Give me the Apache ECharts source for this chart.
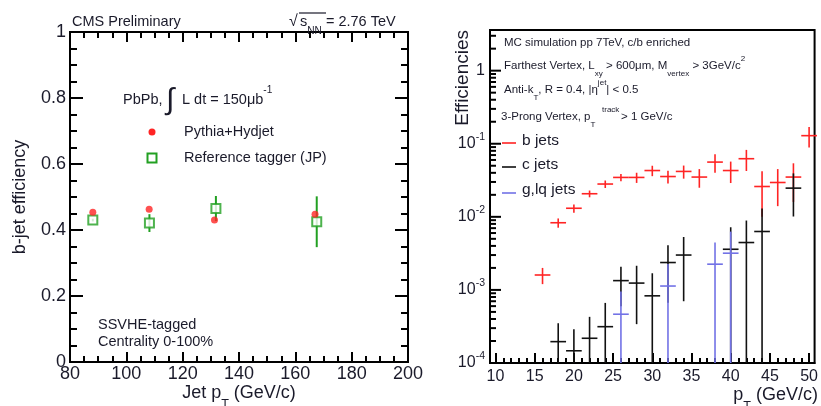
<!DOCTYPE html>
<html><head><meta charset="utf-8">
<script src="https://cdn.jsdelivr.net/npm/echarts@6/dist/echarts.min.js"></script>
<style>html,body{margin:0;padding:0;background:#fff}#c{width:821px;height:406px}</style>
</head><body><div id="c"></div>
<script>
// ---------- Left panel data (b-jet efficiency vs jet pT) ----------
const pythiaPt  = [88.1, 108.1, 131.3, 167.0];
const pythiaEff = [0.454, 0.463, 0.430, 0.448];
const jpPt  = [88.1, 108.2, 131.8, 167.6];
const jpEff = [0.430, 0.421, 0.465, 0.425];
const jpErr = [0.004, 0.027, 0.038, 0.077];
const leftXTicks = [80, 100, 120, 140, 160, 180, 200];
const leftYTicks = [0, 0.2, 0.4, 0.6, 0.8, 1];

// ---------- Right panel data (efficiencies vs pT, log scale) ----------
const binHalfWidth = 1; // histogram bins of width 2 GeV/c
const bPt  = [16, 18, 20, 22, 24, 26, 28, 30, 32, 34, 36, 38, 40, 42, 44, 46, 48, 50];
const bEff = [1.6e-3, 8.3e-3, 1.31e-2, 2.07e-2, 2.81e-2, 3.46e-2, 3.46e-2, 4.3e-2, 3.56e-2, 4.18e-2, 3.5e-2, 5.61e-2, 4.3e-2, 6.24e-2, 2.6e-2, 2.95e-2, 3.5e-2, 0.129];
const bErr = [0.4e-3, 1.2e-3, 1.7e-3, 2.2e-3, 3.3e-3, 4.0e-3, 5.5e-3, 7.0e-3, 7.0e-3, 8.5e-3, 1.0e-2, 1.6e-2, 1.4e-2, 2.0e-2, 1.6e-2, 1.55e-2, 1.9e-2, 0.04];
const cPt  = [18, 20, 22, 24, 26, 28, 30, 32, 34, 40, 42, 44, 48];
const cEff = [1.96e-4, 1.47e-4, 2.18e-4, 3.14e-4, 1.34e-3, 1.24e-3, 8.3e-4, 2.37e-3, 3.0e-3, 3.6e-3, 4.45e-3, 6.3e-3, 2.47e-2];
const cErr = [1.54e-4, 1.43e-4, 2.1e-4, 3.5e-4, 7.4e-4, 9.0e-4, 8.6e-4, 1.7e-3, 2.3e-3, 3.6e-3, 4.45e-3, 6.7e-3, 1.46e-2];
const gPt  = [26, 32, 38, 40];
const gEff = [4.65e-4, 1.13e-3, 2.25e-3, 3.18e-3];
const gErr = [4.85e-4, 1.13e-3, 2.2e-3, 3.1e-3];
const rightXTicks = [10, 15, 20, 25, 30, 35, 40, 45, 50];
const rightYTicks = [1e-4, 1e-3, 1e-2, 1e-1, 1];

// ---------- helpers ----------
const F = '"Liberation Sans", Arial, Helvetica, sans-serif';
const TXT = '#1a1a2a';
const RED = '#ff2424', BLK = '#111111', BLU = '#7272e6', GRN = '#22a022';

const rightXMinor = [];
for (let v = 10; v <= 50; v++) if (v % 5) rightXMinor.push(v);
const rightYMinor = [];
for (let e = -4; e <= 0; e++) for (let m = 2; m <= 9; m++) { const v = m * Math.pow(10, e); if (v < 3.6) rightYMinor.push(+v.toPrecision(3)); }

function zip3(a, b, c) { return a.map((v, i) => [v, b[i], c ? c[i] : 0]); }

function errRender(color, lw, halfW) {
  return function (params, api) {
    const x = api.value(0), y = api.value(1), e = api.value(2);
    const cs = params.coordSys;
    const top = cs.y, bottom = cs.y + cs.height;
    const c = api.coord([x, y]);
    const hi = api.coord([x, y + e]);
    const lo = y - e;
    const yLo = lo > 0 ? api.coord([x, lo])[1] : bottom;
    const ch = [{ type: 'line', shape: { x1: c[0], y1: Math.max(hi[1], top), x2: c[0], y2: Math.min(yLo, bottom) },
      style: { stroke: color, lineWidth: lw } }];
    if (halfW) {
      const l = api.coord([x - halfW, y]), r = api.coord([x + halfW, y]);
      ch.push({ type: 'line', shape: { x1: l[0], y1: c[1], x2: r[0], y2: c[1] }, style: { stroke: color, lineWidth: lw } });
    }
    return { type: 'group', children: ch };
  };
}
// log-axis tick marks (inside, on left edge of the grid) placed through the axis scale
function logTickRender(len) {
  return function (params, api) {
    const cs = params.coordSys;
    const p = api.coord([api.value(0), api.value(1)]);
    return { type: 'line', shape: { x1: cs.x + 1, y1: p[1], x2: cs.x + 1 + len, y2: p[1] }, style: { stroke: '#000', lineWidth: 2 } };
  };
}

function rich(size) {
  return {
    n:   { fontSize: size, lineHeight: size * 2, fontFamily: F, fill: TXT },
    sub: { fontSize: size * 0.7, lineHeight: size * 0.7, verticalAlign: 'bottom', fontFamily: F, fill: TXT },
    sup: { fontSize: size * 0.7, lineHeight: size * 0.7, verticalAlign: 'top', fontFamily: F, fill: TXT }
  };
}
function T(x, y, text, size, align, extra) {
  return Object.assign({ type: 'text', x: x, y: y, z: 100,
    style: { text: text, fontSize: size, fontFamily: F, fill: TXT, textAlign: align || 'left', textVerticalAlign: 'middle', rich: rich(size) } }, extra || {});
}

const axisLineStyle = { color: '#000', width: 2 };
const tickStyle = { color: '#000', width: 2 };

function leftX(pos, labels) {
  return { type: 'value', gridIndex: 0, position: pos, min: 80, max: 200, interval: 20,
    axisLine: { show: true, onZero: false, lineStyle: axisLineStyle },
    axisTick: { show: true, inside: true, length: 10, lineStyle: tickStyle },
    minorTick: { show: true, splitNumber: 4, length: 6, lineStyle: tickStyle },
    axisLabel: { show: labels, fontSize: 18, fontFamily: F, color: TXT, margin: 3 },
    splitLine: { show: false } };
}
function leftY(pos, labels) {
  return { type: 'value', gridIndex: 0, position: pos, min: 0, max: 1, interval: 0.2,
    axisLine: { show: true, onZero: false, lineStyle: axisLineStyle },
    axisTick: { show: true, inside: true, length: 13, lineStyle: tickStyle },
    minorTick: { show: true, splitNumber: 4, length: 7, lineStyle: tickStyle },
    axisLabel: { show: labels, fontSize: 18, fontFamily: F, color: TXT, margin: 4 },
    splitLine: { show: false } };
}

const chart = echarts.init(document.getElementById('c'), null, { renderer: 'canvas' });
chart.setOption({
  animation: false,
  backgroundColor: '#fff',
  grid: [
    { left: 70, top: 32, width: 338, height: 330, show: true, borderColor: '#000', borderWidth: 2, backgroundColor: 'transparent' },
    { left: 490, top: 30, width: 328, height: 333, show: true, borderColor: '#000', borderWidth: 2, backgroundColor: 'transparent' }
  ],
  xAxis: [
    leftX('bottom', true),
    leftX('top', false),
    { type: 'value', gridIndex: 1, position: 'bottom', min: 9.3, max: 50.7,
      axisLine: { show: true, onZero: false, lineStyle: axisLineStyle },
      axisTick: { show: true, inside: true, length: 10, customValues: rightXTicks, lineStyle: tickStyle },
      axisLabel: { show: true, customValues: rightXTicks, fontSize: 16, fontFamily: F, color: TXT, margin: 6 },
      splitLine: { show: false } },
    { type: 'value', gridIndex: 1, position: 'bottom', min: 9.3, max: 50.7,
      axisLine: { show: false },
      axisTick: { show: true, inside: true, length: 5, customValues: rightXMinor, lineStyle: tickStyle },
      axisLabel: { show: false }, splitLine: { show: false } }
  ],
  yAxis: [
    leftY('left', true),
    leftY('right', false),
    { type: 'log', logBase: 10, gridIndex: 1, position: 'left', min: 1e-4, max: 3.6,
      axisLine: { show: true, onZero: false, lineStyle: axisLineStyle },
      axisTick: { show: false },
      axisLabel: { show: true, customValues: rightYTicks, margin: 5, fontFamily: F, color: TXT, fontSize: 16,
        formatter: function (v) { const e = Math.round(Math.log10(v)); return e === 0 ? '{b|1}' : '{b|10}{s|' + e + '}'; },
        rich: { b: { fontSize: 16, lineHeight: 24, fontFamily: F, color: TXT },
                s: { fontSize: 10.5, lineHeight: 11, verticalAlign: 'top', fontFamily: F, color: TXT } } },
      splitLine: { show: false } }
  ],
  series: [
    { type: 'custom', name: 'JP err', xAxisIndex: 0, yAxisIndex: 0, z: 3,
      renderItem: errRender(GRN, 2, 0), data: zip3(jpPt, jpEff, jpErr), encode: { x: 0, y: 1 } },
    { type: 'scatter', name: 'Reference tagger (JP)', xAxisIndex: 0, yAxisIndex: 0, z: 4,
      symbol: 'rect', symbolSize: 9, itemStyle: { color: '#fff', borderColor: GRN, borderWidth: 2 },
      data: jpPt.map((v, i) => [v, jpEff[i]]) },
    { type: 'scatter', name: 'Pythia+Hydjet', xAxisIndex: 0, yAxisIndex: 0, z: 5,
      symbol: 'circle', symbolSize: 7, itemStyle: { color: RED },
      data: pythiaPt.map((v, i) => [v, pythiaEff[i]]) },
    { type: 'custom', name: 'major log ticks', xAxisIndex: 2, yAxisIndex: 2, z: 10, silent: true,
      renderItem: logTickRender(10), data: rightYTicks.map(v => [20, v]), encode: { x: 0, y: 1 } },
    { type: 'custom', name: 'minor log ticks', xAxisIndex: 2, yAxisIndex: 2, z: 10, silent: true,
      renderItem: logTickRender(5), data: rightYMinor.map(v => [20, v]), encode: { x: 0, y: 1 } },
    { type: 'custom', name: 'b jets', xAxisIndex: 2, yAxisIndex: 2, z: 3,
      renderItem: errRender(RED, 1.6, binHalfWidth), data: zip3(bPt, bEff, bErr), encode: { x: 0, y: 1 } },
    { type: 'custom', name: 'c jets', xAxisIndex: 2, yAxisIndex: 2, z: 4,
      renderItem: errRender(BLK, 1.6, binHalfWidth), data: zip3(cPt, cEff, cErr), encode: { x: 0, y: 1 } },
    { type: 'custom', name: 'g,lq jets', xAxisIndex: 2, yAxisIndex: 2, z: 5,
      renderItem: errRender(BLU, 1.6, binHalfWidth), data: zip3(gPt, gEff, gErr), encode: { x: 0, y: 1 } }
  ],
  graphic: [
    // left panel header
    T(72, 22, 'CMS Preliminary', 14.5),
    T(289, 22, '√', 16),
    T(300, 22, '{n|s}{sub|NN}{n| = 2.76 TeV}', 14.5),
    { type: 'line', z: 100, shape: { x1: 299, y1: 13, x2: 326, y2: 13 }, style: { stroke: TXT, lineWidth: 1.2 } },
    // left panel annotations
    T(123, 100, 'PbPb,', 14.5),
    T(166, 101, '∫', 30),
    T(182, 100, '{n|L dt = 150μb}{sup|-1}', 14.5),
    { type: 'circle', z: 100, shape: { cx: 152, cy: 132, r: 3.5 }, style: { fill: RED } },
    T(184, 132, 'Pythia+Hydjet', 14.5),
    { type: 'rect', z: 100, shape: { x: 147.5, y: 153.5, width: 9, height: 9 }, style: { fill: '#fff', stroke: GRN, lineWidth: 2 } },
    T(184, 158, 'Reference tagger (JP)', 14.5),
    T(98, 325, 'SSVHE-tagged', 14.5),
    T(98, 342, 'Centrality 0-100%', 14.5),
    // left axis titles
    T(239, 393, '{n|Jet p}{sub|T}{n| (GeV/c)}', 18, 'center'),
    T(20, 197, 'b-jet efficiency', 18, 'center', { rotation: Math.PI / 2 }),
    // right panel texts
    T(504, 43, 'MC simulation pp 7TeV, c/b enriched', 11.5),
    T(504, 66, '{n|Farthest Vertex, L}{sub|xy}{n| > 600μm, M}{sub|vertex}{n| > 3GeV/c}{sup|2}', 11.5),
    T(504, 90, '{n|Anti-k}{sub|T}{n|, R = 0.4, |η}{sup|jet}{n|| < 0.5}', 11.5),
    T(501, 117, '{n|3-Prong Vertex, p}{sub|T}', 11.5),
    T(602, 110, 'track', 8),
    T(621, 117, '> 1 GeV/c', 11.5),
    // right legend
    { type: 'line', z: 100, shape: { x1: 502, y1: 143, x2: 516, y2: 143 }, style: { stroke: RED, lineWidth: 1.6 } },
    T(522, 141, 'b jets', 15.5),
    { type: 'line', z: 100, shape: { x1: 502, y1: 167, x2: 516, y2: 167 }, style: { stroke: BLK, lineWidth: 1.6 } },
    T(522, 165, 'c jets', 15.5),
    { type: 'line', z: 100, shape: { x1: 502, y1: 193, x2: 516, y2: 193 }, style: { stroke: BLU, lineWidth: 1.6 } },
    T(522, 190, 'g,lq jets', 15.5),
    // right axis titles
    T(818, 395, '{n|p}{sub|T}{n| (GeV/c)}', 18, 'right'),
    T(463, 30, 'Efficiencies', 19, 'right', { rotation: Math.PI / 2 })
  ]
});
</script>
</body></html>
